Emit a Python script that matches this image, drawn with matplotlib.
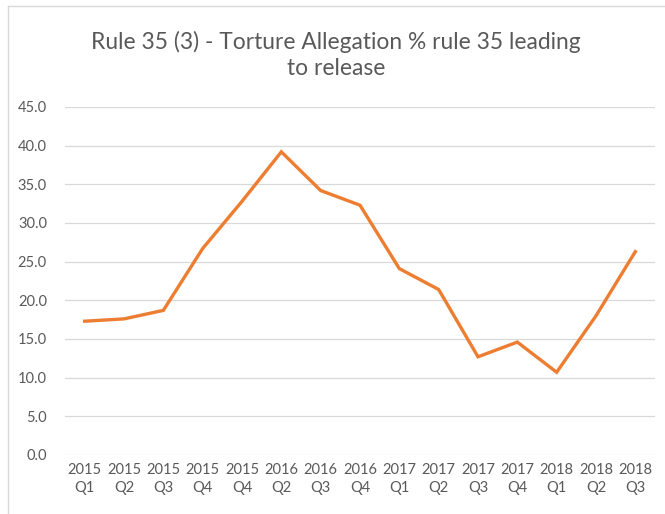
import matplotlib.pyplot as plt
from matplotlib.lines import Line2D

quarters = ['2015\nQ1', '2015\nQ2', '2015\nQ3', '2015\nQ4', '2015\nQ4',
            '2016\nQ2', '2016\nQ3', '2016\nQ4', '2017\nQ1', '2017\nQ2',
            '2017\nQ3', '2017\nQ4', '2018\nQ1', '2018\nQ2', '2018\nQ3']
pct_release = [17.3, 17.6, 18.7, 26.7, 32.8, 39.2, 34.2, 32.3, 24.1, 21.4,
               12.7, 14.6, 10.7, 18.0, 26.3]
y_ticks = [0, 5, 10, 15, 20, 25, 30, 35, 40, 45]

W, H = 665, 514
fig = plt.figure(figsize=(W / 100, H / 100), dpi=100)
plt.rcParams['font.family'] = ['Lato', 'DejaVu Sans']

ax = fig.add_axes([65 / W, 1 - 455 / H, 590 / W, 348 / H])
x = list(range(len(quarters)))
ax.plot(x, pct_release, color='#ED7D31', linewidth=2.4, solid_joinstyle='miter')

ax.set_xlim(-0.5, len(quarters) - 0.5)
ax.set_ylim(0, 45)
ax.set_yticks(y_ticks)
ax.set_yticklabels([f'{v:.1f}' for v in y_ticks])
ax.set_xticks(x)
ax.set_xticklabels(quarters, linespacing=1.3)
ax.grid(axis='y', color='#D9D9D9', linewidth=0.9)
ax.set_axisbelow(True)
for s in ax.spines.values():
    s.set_visible(False)
ax.tick_params(axis='both', length=0, labelsize=10.5, colors='#595959')
ax.tick_params(axis='y', pad=13)
ax.tick_params(axis='x', pad=6)

fig.text(0.505, 1 - 55 / H, 'Rule 35 (3) - Torture Allegation % rule 35 leading\nto release',
         ha='center', va='center', fontsize=16.4, color='#595959', linespacing=1.3)

# chart frame (top and left edges visible)
fig.add_artist(Line2D([8 / W, 1], [1 - 6 / H, 1 - 6 / H], color='#D9D9D9', linewidth=1))
fig.add_artist(Line2D([8 / W, 8 / W], [0, 1 - 6 / H], color='#D9D9D9', linewidth=1))

fig.savefig('out.png', dpi=100)
